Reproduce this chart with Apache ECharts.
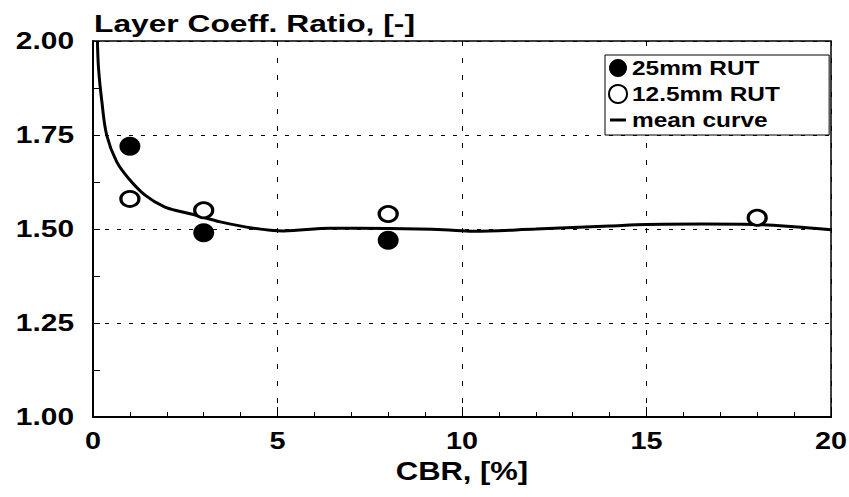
<!DOCTYPE html>
<html>
<head>
<meta charset="utf-8">
<script src="https://cdn.jsdelivr.net/npm/echarts@6/dist/echarts.min.js"></script>
<style>
  html, body { margin: 0; padding: 0; background: #fff; }
  #main { width: 849px; height: 497px; }
</style>
</head>
<body>
<div id="main"></div>
<script>
// ---- data ----
var yTitle = 'Layer Coeff. Ratio, [-]';
var xTitle = 'CBR, [%]';
var xTickLabels = ['0', '5', '10', '15', '20'];
var yTickLabels = ['1.00', '1.25', '1.50', '1.75', '2.00'];
var seriesNames = ['25mm RUT', '12.5mm RUT', 'mean curve'];

var rut25X = [1, 3, 8];
var rut25Y = [1.72, 1.49, 1.47];

var rut125X = [1, 3, 8, 18];
var rut125Y = [1.58, 1.55, 1.54, 1.53];

var meanX = [0.12, 0.15, 0.24, 0.37, 0.64, 0.96, 1.41, 1.95, 2.4, 2.81, 3.45, 4.35, 5.16, 6.43, 8, 9.5, 10.3, 12, 14, 15, 16.5, 17.9, 19, 20];
var meanY = [2.0, 1.927, 1.839, 1.75, 1.679, 1.635, 1.59, 1.558, 1.546, 1.536, 1.519, 1.502, 1.495, 1.502, 1.501, 1.498, 1.494, 1.5, 1.508, 1.512, 1.513, 1.512, 1.506, 1.498];

function zip(xs, ys) { return xs.map(function (x, i) { return [x, ys[i]]; }); }

var FONT = 'Liberation Sans, Arial, sans-serif';

var chart = echarts.init(document.getElementById('main'), null, { renderer: 'svg', width: 849, height: 497 });

var option = {
  animation: false,
  backgroundColor: '#ffffff',
  grid: {
    left: 93, right: 18, top: 41, bottom: 80,
    show: true, borderColor: '#000', borderWidth: 1.5, backgroundColor: 'transparent'
  },
  legend: {
    orient: 'vertical',
    left: 605, top: 55,
    padding: [3, 76, 5, 3],
    itemGap: 6,
    itemWidth: 18, itemHeight: 18,
    borderColor: '#000', borderWidth: 1,
    backgroundColor: '#fff',
    textStyle: { fontFamily: FONT, fontWeight: 'bold', fontSize: 20, color: '#000' },
    data: [
      { name: seriesNames[0], icon: 'circle' },
      { name: seriesNames[1], icon: 'circle' },
      { name: seriesNames[2], icon: 'path://M0,0 M1,7.5 L17,7.5 L17,10.5 L1,10.5 Z M18,18' }
    ]
  },
  xAxis: {
    type: 'value', min: 0, max: 20, interval: 5,
    name: xTitle, nameLocation: 'middle', nameGap: 41,
    nameTextStyle: { fontFamily: FONT, fontWeight: 'bold', fontSize: 26, color: '#000' },
    axisLine: { show: true, onZero: false, lineStyle: { color: '#000', width: 2 } },
    axisTick: { show: true, inside: true, length: 10, lineStyle: { color: '#000', width: 1 } },
    minorTick: { show: true, splitNumber: 5, length: 5, lineStyle: { color: '#000', width: 1 } },
    axisLabel: {
      fontFamily: FONT, fontWeight: 'bold', fontSize: 24, color: '#000', margin: 11,
      formatter: function (v) { var i = Math.round(v / 5); return xTickLabels[i] || ''; }
    },
    splitLine: { show: true, lineStyle: { color: '#000', width: 1, type: [5, 12] } }
  },
  yAxis: {
    type: 'value', min: 1, max: 2, interval: 0.25,
    name: yTitle, nameLocation: 'end', nameGap: 6,
    nameTextStyle: { fontFamily: FONT, fontWeight: 'bold', fontSize: 23, color: '#000', align: 'left', verticalAlign: 'bottom', padding: [0, 0, 0, 1] },
    axisLine: { show: true, onZero: false, lineStyle: { color: '#000', width: 2 } },
    axisTick: { show: true, inside: true, length: 7, lineStyle: { color: '#000', width: 1 } },
    minorTick: { show: true, splitNumber: 2, length: 7, lineStyle: { color: '#000', width: 1 } },
    axisLabel: {
      fontFamily: FONT, fontWeight: 'bold', fontSize: 23, color: '#000', margin: 19,
      formatter: function (v) { var i = Math.round((v - 1) / 0.25); return yTickLabels[i] || ''; }
    },
    splitLine: { show: true, lineStyle: { color: '#000', width: 1, type: [4, 8] } }
  },
  series: [
    {
      name: seriesNames[2], type: 'line', data: zip(meanX, meanY),
      symbol: 'none', smooth: 0.35, z: 2,
      lineStyle: { color: '#000', width: 3 },
      itemStyle: { color: '#000' }
    },
    {
      name: seriesNames[0], type: 'scatter', data: zip(rut25X, rut25Y),
      symbol: 'circle', symbolSize: [21, 19], z: 4,
      itemStyle: { color: '#000', opacity: 1 }
    },
    {
      name: seriesNames[1], type: 'scatter', data: zip(rut125X, rut125Y),
      symbol: 'circle', symbolSize: [18, 15], z: 4,
      itemStyle: { color: '#fff', borderColor: '#000', borderWidth: 3, opacity: 1 }
    }
  ]
};

chart.setOption(option);

// the reference uses horizontally stretched lettering
function stretchText() {
  var texts = document.querySelectorAll('#main svg text');
  texts.forEach(function (t) {
    var s = (t.textContent || '').trim();
    if (!s) return;
    var f;
    if (xTickLabels.indexOf(s) >= 0) f = 1.2;
    else if (yTickLabels.indexOf(s) >= 0) f = 1.3;
    else if (s === xTitle) f = 1.19;
    else if (s === yTitle) f = 1.38;
    else f = 1.22;
    t.removeAttribute('textLength');
    t.removeAttribute('lengthAdjust');
    var w = t.getComputedTextLength();
    if (w > 0) {
      t.setAttribute('textLength', (w * f).toFixed(2));
      t.setAttribute('lengthAdjust', 'spacingAndGlyphs');
    }
  });
}
stretchText();
chart.on('rendered', stretchText);
chart.on('finished', stretchText);
</script>
</body>
</html>
